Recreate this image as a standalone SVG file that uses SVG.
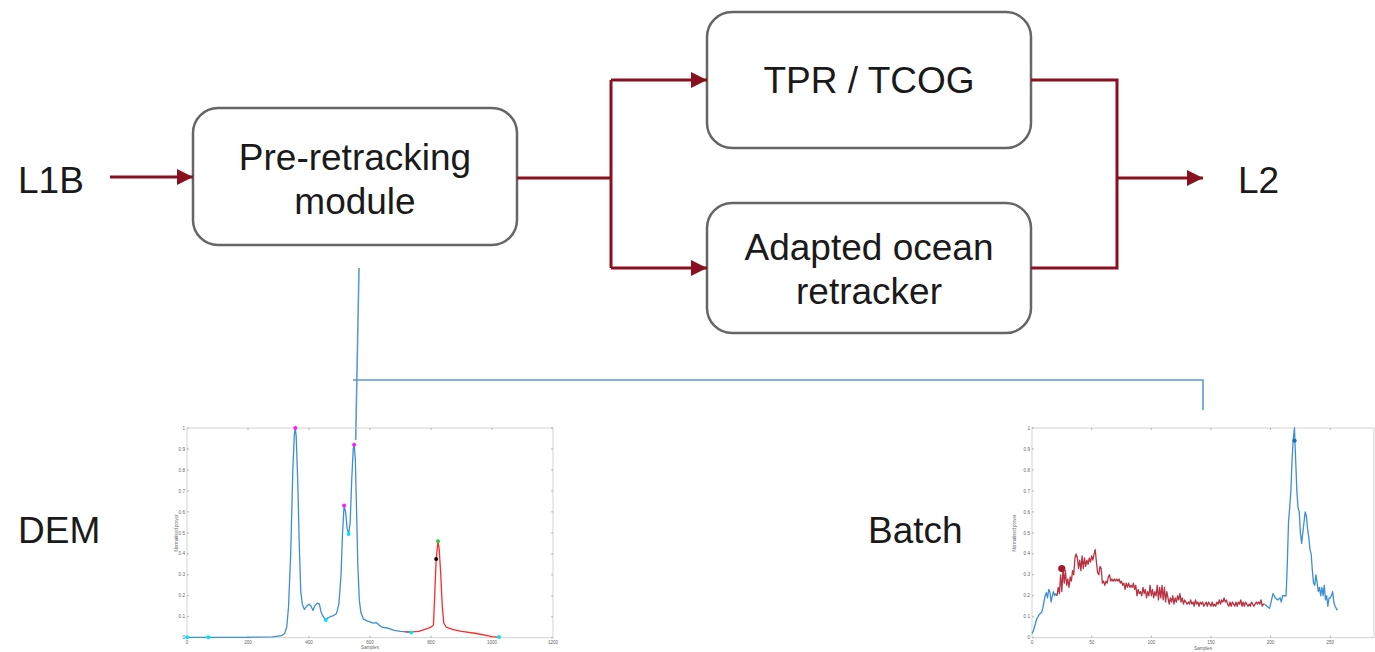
<svg xmlns="http://www.w3.org/2000/svg" width="1375" height="652" viewBox="0 0 1375 652">
  <defs>
    <marker id="arrowRed" markerUnits="userSpaceOnUse" markerWidth="18" markerHeight="18" refX="16" refY="8" orient="auto">
      <path d="M0,0 L16,8 L0,16 Z" fill="#8a1020"/>
    </marker>
    <style>
      .box { fill: #ffffff; stroke: #666666; stroke-width: 2.5; }
      .lbl { font-family: "Liberation Sans", Arial, sans-serif; font-size: 37px; fill: #1a1a1a; }
      .flow { fill: none; stroke: #8a1020; stroke-width: 3; }
      .link { fill: none; stroke: #5b9bd5; stroke-width: 1.6; }
      .axis { fill: none; stroke: #c8c8c8; stroke-width: 0.8; }
      .tick { stroke: #9a9a9a; stroke-width: 0.7; }
      .tl { font-family: "Liberation Sans", Arial, sans-serif; font-size: 4.6px; fill: #666666; }
      .curveB { fill: none; stroke: #3d8fd1; stroke-width: 1.3; stroke-linejoin: round; }
      .curveR { fill: none; stroke: #ff2a2a; stroke-width: 1.3; stroke-linejoin: round; }
      .curveD { fill: none; stroke: #b83242; stroke-width: 1.3; stroke-linejoin: round; }
    </style>
  </defs>

  <rect width="1375" height="652" fill="#ffffff"/>

  <!-- side labels -->
  <g id="l1b"><text class="lbl" x="18" y="193">L1B</text></g>
  <g id="l2"><text class="lbl" x="1238" y="193">L2</text></g>
  <g id="dem-label"><text class="lbl" x="18" y="543">DEM</text></g>
  <g id="batch-label"><text class="lbl" x="868" y="543">Batch</text></g>

  <!-- processing blocks -->
  <g id="pre-retracking">
    <rect class="box" x="193" y="108" width="324" height="137" rx="25"/>
    <text class="lbl" x="355" y="170" text-anchor="middle">Pre-retracking</text>
    <text class="lbl" x="355" y="214" text-anchor="middle">module</text>
  </g>
  <g id="tpr-tcog">
    <rect class="box" x="707" y="12" width="324" height="136" rx="25"/>
    <text class="lbl" x="869" y="93" text-anchor="middle">TPR / TCOG</text>
  </g>
  <g id="ocean-retracker">
    <rect class="box" x="707" y="203" width="324" height="130" rx="25"/>
    <text class="lbl" x="869" y="260" text-anchor="middle">Adapted ocean</text>
    <text class="lbl" x="869" y="304" text-anchor="middle">retracker</text>
  </g>

  <!-- connectors -->
  <g id="connectors">
    <path class="flow" d="M110,177 H193" marker-end="url(#arrowRed)"/>
    <path class="flow" d="M517,178 H611"/>
    <path class="flow" d="M611,80 V268"/>
    <path class="flow" d="M611,80 H707" marker-end="url(#arrowRed)"/>
    <path class="flow" d="M611,268 H707" marker-end="url(#arrowRed)"/>
    <path class="flow" d="M1031,80 H1117 V268 H1031"/>
    <path class="flow" d="M1117,178 H1203" marker-end="url(#arrowRed)"/>
    <path class="link" d="M359,268 L355.7,440"/>
    <path class="link" d="M353,380 H1203 V410"/>
  </g>

  <!-- DEM waveform plot -->
  <g id="dem-plot">
    <rect class="axis" x="187" y="428" width="366" height="209.7"/>
    <g class="tick">
      <path d="M187,637.7 h2 M187,616.7 h2 M187,595.8 h2 M187,574.8 h2 M187,553.8 h2 M187,532.9 h2 M187,511.9 h2 M187,490.9 h2 M187,469.9 h2 M187,449 h2 M187,428 h2"/>
      <path d="M553,637.7 h-2 M553,616.7 h-2 M553,595.8 h-2 M553,574.8 h-2 M553,553.8 h-2 M553,532.9 h-2 M553,511.9 h-2 M553,490.9 h-2 M553,469.9 h-2 M553,449 h-2 M553,428 h-2"/>
      <path d="M248,637.7 v-2 M309,637.7 v-2 M370,637.7 v-2 M431,637.7 v-2 M492,637.7 v-2 M248,428 v2 M309,428 v2 M370,428 v2 M431,428 v2 M492,428 v2"/>
    </g>
    <g class="tl" text-anchor="end">
      <text x="185" y="639.3">0</text><text x="185" y="618.3">0.1</text><text x="185" y="597.4">0.2</text>
      <text x="185" y="576.4">0.3</text><text x="185" y="555.4">0.4</text><text x="185" y="534.5">0.5</text>
      <text x="185" y="513.5">0.6</text><text x="185" y="492.5">0.7</text><text x="185" y="471.5">0.8</text>
      <text x="185" y="450.6">0.9</text><text x="185" y="429.6">1</text>
    </g>
    <g class="tl" text-anchor="middle">
      <text x="187" y="643.5">0</text><text x="248" y="643.5">200</text><text x="309" y="643.5">400</text>
      <text x="370" y="643.5">600</text><text x="431" y="643.5">800</text><text x="492" y="643.5">1000</text>
      <text x="553" y="643.5">1200</text>
      <text x="370" y="649">Samples</text>
      <text transform="translate(177.5,533) rotate(-90)">Normalised power</text>
    </g>
    <g transform="translate(187,637.7) scale(0.305,-209.7)">
      <polyline class="curveB" vector-effect="non-scaling-stroke" points="0,0.002 100,0.002 200,0.002 280,0.004 310,0.01 320,0.02 327,0.05 333,0.15 340,0.4 347,0.8 352,0.97 355,1 358,0.96 363,0.75 368,0.45 373,0.22 378,0.16 385,0.135 392,0.15 400,0.16 407,0.15 413,0.13 420,0.155 428,0.165 434,0.16 440,0.12 447,0.1 455,0.085 462,0.095 470,0.1 480,0.105 490,0.115 498,0.16 505,0.3 510,0.5 515,0.63 520,0.6 525,0.52 530,0.495 535,0.55 540,0.75 545,0.9 548,0.92 552,0.85 556,0.6 560,0.35 565,0.18 570,0.12 578,0.09 590,0.08 600,0.075 610,0.07 620,0.072 630,0.06 640,0.05 660,0.045 680,0.035 700,0.03 720,0.028 735,0.025"/>
      <polyline class="curveR" vector-effect="non-scaling-stroke" points="715,0.028 740,0.028 760,0.03 780,0.04 800,0.05 808,0.06 812,0.2 817,0.375 823,0.46 827,0.42 832,0.3 837,0.15 842,0.07 850,0.05 870,0.04 900,0.03 950,0.02 1000,0.005 1023,0.003"/>
    </g>
    <g fill="#00e5ff">
      <circle cx="187" cy="637.3" r="2"/><circle cx="208.4" cy="637.3" r="2"/>
      <circle cx="325.8" cy="619.9" r="2"/><circle cx="348.6" cy="533.9" r="2"/>
      <circle cx="411.2" cy="632.5" r="2"/><circle cx="499" cy="637" r="2"/>
    </g>
    <g fill="#ff1aff">
      <circle cx="295.3" cy="428" r="2"/><circle cx="344.1" cy="505.6" r="2"/><circle cx="354.1" cy="444.8" r="2"/>
    </g>
    <circle cx="438" cy="541.3" r="2" fill="#33cc33"/>
    <circle cx="436.2" cy="559.1" r="2" fill="#000000"/>
  </g>

  <!-- Batch waveform plot -->
  <g id="batch-plot">
    <rect class="axis" x="1032" y="428" width="342" height="209.7"/>
    <g class="tick">
      <path d="M1032,637.7 h2 M1032,616.7 h2 M1032,595.8 h2 M1032,574.8 h2 M1032,553.8 h2 M1032,532.9 h2 M1032,511.9 h2 M1032,490.9 h2 M1032,469.9 h2 M1032,449 h2 M1032,428 h2"/>
      <path d="M1091.7,637.7 v-2 M1151.3,637.7 v-2 M1211,637.7 v-2 M1270.6,637.7 v-2 M1330.3,637.7 v-2 M1091.7,428 v2 M1151.3,428 v2 M1211,428 v2 M1270.6,428 v2 M1330.3,428 v2"/>
    </g>
    <g class="tl" text-anchor="end">
      <text x="1030" y="639.3">0</text><text x="1030" y="618.3">0.1</text><text x="1030" y="597.4">0.2</text>
      <text x="1030" y="576.4">0.3</text><text x="1030" y="555.4">0.4</text><text x="1030" y="534.5">0.5</text>
      <text x="1030" y="513.5">0.6</text><text x="1030" y="492.5">0.7</text><text x="1030" y="471.5">0.8</text>
      <text x="1030" y="450.6">0.9</text><text x="1030" y="429.6">1</text>
    </g>
    <g class="tl" text-anchor="middle">
      <text x="1032" y="643.5">0</text><text x="1091.7" y="643.5">50</text><text x="1151.3" y="643.5">100</text>
      <text x="1211" y="643.5">150</text><text x="1270.6" y="643.5">200</text><text x="1330.3" y="643.5">250</text>
      <text x="1203" y="650">Samples</text>
      <text transform="translate(1016,533) rotate(-90)">Normalised power</text>
    </g>
    <g transform="translate(1032,637.7) scale(1.193,-209.7)">
      <polyline class="curveB" vector-effect="non-scaling-stroke" points="0,0.02 1,0.03 2,0.05 3,0.07 4,0.09 5,0.1 6,0.11 7,0.115 8,0.12 9,0.14 10,0.17 11,0.2 12,0.215 13,0.19 14,0.23 15,0.22 16,0.17 17,0.2 18,0.22 19,0.2 20,0.21 21,0.2"/>
      <polyline class="curveD" vector-effect="non-scaling-stroke" points="21,0.2 22,0.24 23,0.21 24,0.3 25,0.22 26,0.33 27,0.26 28,0.32 29,0.25 30,0.28 31,0.24 32,0.29 33,0.27 34,0.32 35,0.3 36,0.38 37,0.4 38,0.38 39,0.33 40,0.37 41,0.32 42,0.39 43,0.33 44,0.38 45,0.34 46,0.37 47,0.35 48,0.38 49,0.36 50,0.39 51,0.37 52,0.4 53,0.42 54,0.36 55,0.31 56,0.3 57,0.34 58,0.33 59,0.26 60,0.27 61,0.25 62,0.27 63,0.26 64,0.29 65,0.3 66,0.27 67,0.28 68,0.27 69,0.28 70,0.27 71,0.28 72,0.27 73,0.28 74,0.26 75,0.27 76,0.25 77,0.26 78,0.23 79,0.26 80,0.24 81,0.26 82,0.24 83,0.25 84,0.24 85,0.26 86,0.23 87,0.25 88,0.2 89,0.23 90,0.21 91,0.22 92,0.2 93,0.24 94,0.21 95,0.23 96,0.19 97,0.22 98,0.2 99,0.25 100,0.2 101,0.23 102,0.19 103,0.22 104,0.2 105,0.25 106,0.18 107,0.24 108,0.19 109,0.25 110,0.18 111,0.24 112,0.17 113,0.22 114,0.19 115,0.16 116,0.19 117,0.17 118,0.2 119,0.16 120,0.19 121,0.17 122,0.2 123,0.18 124,0.21 125,0.17 126,0.19 127,0.16 128,0.18 129,0.17 130,0.16 131,0.17 132,0.16 133,0.18 134,0.16 135,0.17 136,0.15 137,0.18 138,0.16 139,0.17 140,0.15 141,0.17 142,0.16 143,0.17 144,0.15 145,0.16 146,0.17 147,0.15 148,0.17 149,0.16 150,0.15 151,0.17 152,0.15 153,0.16 154,0.15 155,0.17 156,0.16 157,0.18 158,0.16 159,0.18 160,0.17 161,0.19 162,0.17 163,0.18 164,0.16 165,0.15 166,0.17 167,0.15 168,0.17 169,0.16 170,0.15 171,0.17 172,0.15 173,0.17 174,0.16 175,0.18 176,0.15 177,0.17 178,0.15 179,0.17 180,0.16 181,0.15 182,0.16 183,0.15 184,0.17 185,0.16 186,0.15 187,0.16 188,0.17 189,0.16 190,0.17 191,0.16 192,0.18 193,0.15 194,0.16 195,0.16"/>
      <polyline class="curveB" vector-effect="non-scaling-stroke" points="195,0.16 197,0.15 199,0.14 200,0.16 202,0.21 204,0.19 206,0.18 208,0.19 209,0.17 210,0.2 212,0.2 213,0.2 214,0.35 215,0.55 216,0.62 217,0.7 218,0.85 219,0.95 220,1 221,0.85 222,0.7 223,0.62 224,0.6 225,0.5 226,0.45 227,0.5 228,0.55 229,0.6 230,0.58 231,0.52 232,0.48 233,0.42 234,0.4 235,0.32 236,0.26 237,0.25 238,0.3 239,0.26 240,0.22 241,0.24 242,0.2 243,0.24 244,0.2 245,0.25 246,0.18 247,0.2 248,0.15 249,0.19 250,0.19 251,0.2 252,0.22 253,0.17 254,0.15 255,0.14 256,0.13"/>
    </g>
    <circle cx="1061.8" cy="568.5" r="3.6" fill="#a8182c"/>
    <circle cx="1294.5" cy="440.6" r="2.2" fill="#1f6fb5"/>
  </g>
</svg>
